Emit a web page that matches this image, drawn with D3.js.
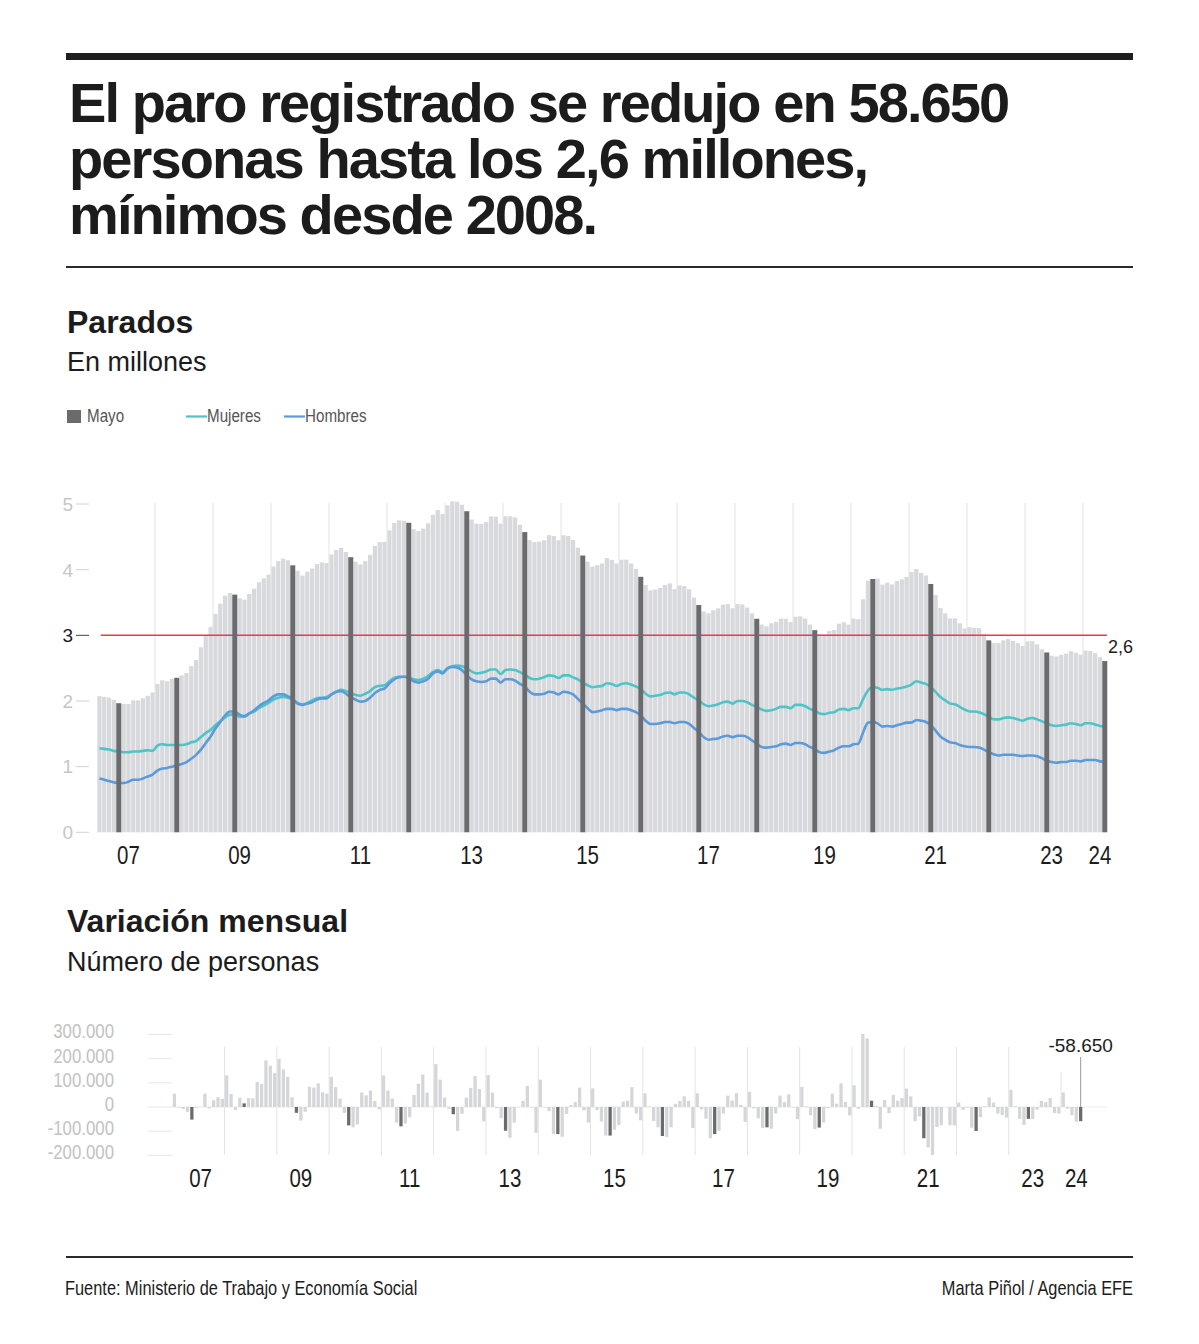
<!DOCTYPE html>
<html>
<head>
<meta charset="utf-8">
<script src="https://cdn.jsdelivr.net/npm/d3@7"></script>
<style>
  html, body { margin: 0; padding: 0; background: #fff; }
  svg { display: block; }
</style>
</head>
<body>
<svg id="chart" width="1199" height="1344"></svg>
<script>
// ---------- DATA ----------
const titleLines = ["El paro registrado se redujo en 58.650", "personas hasta los 2,6 millones,", "mínimos desde 2008."];
const firstMonth = "2007-01";
const lastMonth = "2024-05";
const seriesNames = ["Mayo", "Mujeres", "Hombres"];
const tickLabels = ["07", "09", "11", "13", "15", "17", "19", "21", "23", "24"];
const tickMonths = ["2007-07", "2009-06", "2011-07", "2013-06", "2015-06", "2017-07", "2019-07", "2021-06", "2023-06", "2024-04"];
const yTicksTop = [0, 1, 2, 3, 4, 5];
const yTicksBottom = [300, 200, 100, 0, -100, -200];
const yLabelsBottom = ["300.000", "200.000", "100.000", "0", "-100.000", "-200.000"];
const refLevel = 3;

// Total parados (thousands)
const paro = [
2074,2064,2051,2018,1966,1955,1953,2010,2008,2040,2080,2130,
2261,2315,2300,2338,2353,2390,2426,2530,2625,2818,2989,3129,
3327,3482,3605,3645,3620,3564,3544,3629,3709,3808,3869,3924,
4048,4130,4167,4142,4066,3982,3909,3969,4017,4085,4110,4100,
4231,4299,4334,4269,4190,4122,4080,4130,4226,4360,4420,4422,
4599,4712,4751,4744,4714,4615,4587,4626,4705,4834,4908,4848,
4980,5040,5035,4989,4890,4763,4699,4698,4724,4811,4808,4701,
4814,4812,4795,4684,4572,4449,4420,4427,4447,4526,4512,4448,
4525,4512,4452,4334,4215,4121,4047,4068,4094,4176,4149,4094,
4151,4153,4094,4011,3891,3767,3684,3697,3721,3765,3790,3703,
3760,3750,3702,3573,3461,3363,3336,3383,3410,3467,3475,3413,
3476,3470,3423,3336,3252,3163,3136,3183,3203,3255,3253,3202,
3285,3289,3255,3164,3079,3016,3012,3066,3080,3178,3199,3164,
3254,3246,3549,3832,3858,3863,3773,3802,3776,3826,3852,3889,
3965,4009,3950,3911,3782,3615,3417,3334,3258,3258,3183,3106,
3124,3112,3109,3022,2923,2881,2884,2924,2942,2915,2881,2838,
2908,2911,2862,2788,2739,2689,2678,2703,2722,2759,2735,2707,
2768,2760,2727,2667,2608];

// Mujeres (millions)
const mujeres = [
1.28,1.27,1.26,1.24,1.23,1.22,1.22,1.23,1.23,1.24,1.25,1.24,
1.32,1.34,1.33,1.33,1.33,1.33,1.34,1.37,1.39,1.45,1.51,1.56,
1.63,1.69,1.75,1.79,1.80,1.76,1.76,1.81,1.84,1.89,1.93,1.97,
2.02,2.05,2.06,2.05,2.02,1.97,1.95,1.97,2.01,2.04,2.05,2.06,
2.10,2.14,2.17,2.15,2.12,2.09,2.08,2.11,2.15,2.21,2.23,2.24,
2.30,2.35,2.37,2.37,2.36,2.33,2.32,2.34,2.38,2.44,2.47,2.44,
2.49,2.53,2.54,2.53,2.50,2.45,2.42,2.43,2.45,2.48,2.48,2.41,
2.47,2.48,2.47,2.44,2.40,2.35,2.33,2.34,2.36,2.39,2.38,2.35,
2.39,2.39,2.36,2.33,2.28,2.24,2.21,2.22,2.23,2.27,2.26,2.23,
2.26,2.27,2.25,2.22,2.18,2.11,2.07,2.08,2.09,2.12,2.13,2.10,
2.13,2.13,2.10,2.05,2.01,1.95,1.92,1.93,1.95,1.98,1.99,1.96,
2.00,2.00,1.98,1.94,1.91,1.87,1.85,1.86,1.88,1.91,1.91,1.89,
1.94,1.94,1.92,1.88,1.85,1.81,1.80,1.82,1.83,1.87,1.88,1.86,
1.89,1.89,2.03,2.16,2.21,2.20,2.17,2.18,2.17,2.19,2.20,2.22,
2.25,2.30,2.28,2.26,2.21,2.14,2.06,2.01,1.96,1.95,1.91,1.87,
1.84,1.84,1.83,1.80,1.76,1.72,1.72,1.74,1.75,1.74,1.72,1.70,
1.73,1.74,1.72,1.69,1.66,1.63,1.62,1.63,1.64,1.66,1.65,1.63,
1.66,1.66,1.64,1.62,1.61];

// Hombres (millions)
const hombres = [
0.82,0.80,0.78,0.76,0.75,0.75,0.77,0.80,0.80,0.82,0.85,0.88,
0.94,0.97,0.98,1.00,1.02,1.04,1.07,1.12,1.18,1.26,1.36,1.46,
1.58,1.68,1.78,1.84,1.84,1.79,1.77,1.81,1.86,1.92,1.97,2.01,
2.07,2.10,2.10,2.07,2.03,1.96,1.94,1.96,1.98,2.02,2.04,2.04,
2.10,2.14,2.15,2.11,2.06,2.02,1.99,2.00,2.05,2.12,2.17,2.19,
2.27,2.33,2.36,2.37,2.35,2.30,2.28,2.30,2.34,2.42,2.45,2.42,
2.50,2.52,2.51,2.47,2.39,2.33,2.30,2.29,2.30,2.34,2.34,2.28,
2.33,2.33,2.31,2.26,2.22,2.14,2.10,2.10,2.11,2.14,2.13,2.10,
2.14,2.13,2.10,2.03,1.96,1.89,1.83,1.84,1.86,1.88,1.88,1.86,
1.88,1.88,1.86,1.83,1.78,1.70,1.65,1.65,1.66,1.68,1.68,1.66,
1.68,1.68,1.65,1.59,1.53,1.45,1.41,1.42,1.43,1.46,1.47,1.45,
1.47,1.47,1.45,1.40,1.35,1.30,1.29,1.30,1.31,1.34,1.35,1.33,
1.36,1.36,1.34,1.30,1.27,1.22,1.21,1.23,1.25,1.29,1.31,1.31,
1.34,1.35,1.52,1.67,1.68,1.66,1.61,1.62,1.61,1.63,1.65,1.67,
1.67,1.71,1.70,1.68,1.63,1.55,1.46,1.41,1.37,1.36,1.33,1.31,
1.30,1.30,1.29,1.26,1.22,1.19,1.17,1.18,1.18,1.18,1.17,1.16,
1.17,1.17,1.16,1.13,1.09,1.07,1.06,1.07,1.07,1.09,1.09,1.08,
1.10,1.10,1.10,1.08,1.07];

// Variación mensual (thousands of persons)
const variacion = [
55,-3,-8,-20,-52,-4,1,55,-6,28,40,33,
131,54,-12,38,15,37,36,104,95,193,171,140,
199,155,124,40,-24,-56,-20,84,80,98,61,55,
124,82,35,-24,-76,-84,-72,60,48,68,25,-10,
130,68,35,-65,-80,-68,-42,50,96,134,60,2,
177,113,39,-7,-30,-99,-28,39,79,128,74,-59,
132,60,-5,-46,-98,-127,-64,-1,25,87,-2,-107,
113,-2,-17,-112,-112,-123,-29,8,20,80,-14,-64,
77,-13,-60,-118,-118,-94,-74,22,26,82,-27,-55,
57,2,-58,-84,-120,-124,-84,13,25,44,25,-87,
57,-10,-48,-129,-112,-98,-27,47,27,57,8,-62,
63,-6,-47,-87,-84,-90,-27,47,20,52,-2,-50,
83,3,-34,-91,-85,-64,-4,55,14,98,21,-35,
90,-7,302,283,26,5,-90,29,-26,50,26,37,
76,44,-59,-39,-129,-167,-198,-83,-76,0,-75,-76,
18,-12,-3,-86,-99,-42,3,40,18,-27,-33,-44,
71,3,-49,-74,-49,-50,-11,25,20,37,-25,-27,
60,-7,-33,-61,-58.65];

const lastLabel = "-58.650";
const lastTotalLabel = "2,6";
const footerLeft = "Fuente: Ministerio de Trabajo y Economía Social";
const footerRight = "Marta Piñol / Agencia EFE";

// ---------- SETUP ----------
const fmtM = d3.timeFormat("%Y-%m");
const parseM = d3.timeParse("%Y-%m");
const months = d3.timeMonth.range(parseM(firstMonth), d3.timeMonth.offset(parseM(lastMonth), 1)).map(fmtM);
const isMay = m => m.slice(5) === "05";
const isJan = m => m.slice(5) === "01";

const SANS = "'Liberation Sans',Arial,Helvetica,sans-serif";
const NARROW_SCALE = 0.82;
const C_LIGHT = "#d8d9dd";
const C_LIGHT2 = "#d5d6da";
const C_DARK = "#6b6b6e";
const C_MUJ = "#4fc4c8";
const C_HOM = "#5b9bd9";
const C_RED = "#ec3a43";
const C_TEXT = "#1c1c1c";

const svg = d3.select("#chart");
svg.append("rect").attr("width", 1199).attr("height", 1344).attr("fill", "#fff");

// condensed text helper (Arial Narrow look, emulated by horizontal scaling)
function narrowText(parent, x, y, txt, size, fill, anchor) {
  const g = parent.append("g").attr("transform", `translate(${x},${y}) scale(${NARROW_SCALE},1)`);
  return g.append("text").attr("x", 0).attr("y", 0).attr("font-family", SANS).attr("font-size", size)
    .attr("fill", fill).attr("text-anchor", anchor || "start").text(txt);
}

// ---------- HEADER ----------
svg.append("rect").attr("x", 66).attr("y", 53).attr("width", 1067).attr("height", 7).attr("fill", "#1e1e1e");
const title = svg.append("text").attr("font-family", SANS).attr("font-weight", "bold")
  .attr("font-size", 56).attr("letter-spacing", "-1.9px").attr("fill", C_TEXT);
titleLines.forEach((t, i) => {
  title.append("tspan").attr("x", 69).attr("y", 122 + i * 56).text(t);
});
svg.append("rect").attr("x", 66).attr("y", 266).attr("width", 1067).attr("height", 2).attr("fill", "#2a2a2a");

// ---------- TOP CHART ----------
svg.append("text").attr("x", 67).attr("y", 333).attr("font-family", SANS).attr("font-weight", "bold")
  .attr("font-size", 32).attr("fill", C_TEXT).text("Parados");
svg.append("text").attr("x", 67).attr("y", 371).attr("font-family", SANS)
  .attr("font-size", 27).attr("fill", C_TEXT).text("En millones");

// legend
const lg = svg.append("g");
lg.append("rect").attr("x", 67).attr("y", 410).attr("width", 14).attr("height", 13).attr("fill", C_DARK);
narrowText(lg, 87, 422, seriesNames[0], 18.5, "#555");
lg.append("line").attr("x1", 186).attr("x2", 207).attr("y1", 416.5).attr("y2", 416.5).attr("stroke", C_MUJ).attr("stroke-width", 2.2);
narrowText(lg, 207, 422, seriesNames[1], 18.5, "#555");
lg.append("line").attr("x1", 284).attr("x2", 305).attr("y1", 416.5).attr("y2", 416.5).attr("stroke", C_HOM).attr("stroke-width", 2.2);
narrowText(lg, 305, 422, seriesNames[2], 18.5, "#555");

const xTop = d3.scaleBand().domain(months).range([97.3, 1106.9]).paddingInner(0.12).paddingOuter(0);
const yTop = d3.scaleLinear().domain([0, 5]).range([832.3, 504]);
const stepT = xTop.step();
const gapT = stepT - xTop.bandwidth();

const topData = months.map((m, i) => ({ m, total: paro[i] / 1000, muj: mujeres[i], hom: hombres[i] }));

// light bars
svg.append("g").selectAll("rect").data(topData.filter(d => !isMay(d.m))).join("rect")
  .attr("x", d => xTop(d.m)).attr("width", xTop.bandwidth())
  .attr("y", d => yTop(d.total)).attr("height", d => yTop(0) - yTop(d.total))
  .attr("fill", C_LIGHT);

// gridlines (January)
svg.append("g").selectAll("line").data(months.filter((m, i) => isJan(m) && i > 0)).join("line")
  .attr("x1", m => xTop(m) - gapT / 2).attr("x2", m => xTop(m) - gapT / 2)
  .attr("y1", yTop(5) - 1).attr("y2", yTop(0))
  .attr("stroke", "#e3e3e6").attr("stroke-width", 1);

// y axis
const yAxT = svg.append("g").attr("font-family", SANS).attr("font-size", 19);
yTicksTop.forEach(v => {
  const dark = v === refLevel;
  yAxT.append("line").attr("x1", 76).attr("x2", 89).attr("y1", yTop(v)).attr("y2", yTop(v))
    .attr("stroke", dark ? "#444" : "#d2d2d2").attr("stroke-width", 1);
  yAxT.append("text").attr("x", 73).attr("y", yTop(v)).attr("dy", "0.36em").attr("text-anchor", "end")
    .attr("fill", dark ? C_TEXT : "#c6c6c6").text(v);
});

// reference line
svg.append("line").attr("x1", 100.7).attr("x2", 1106.9).attr("y1", yTop(refLevel)).attr("y2", yTop(refLevel))
  .attr("stroke", C_RED).attr("stroke-width", 1.6);

// lines
const lineGen = key => d3.line().x(d => xTop(d.m) + xTop.bandwidth() / 2).y(d => yTop(d[key])).curve(d3.curveMonotoneX);
svg.append("path").datum(topData).attr("d", lineGen("muj")).attr("fill", "none").attr("stroke", C_MUJ).attr("stroke-width", 2.6);
svg.append("path").datum(topData).attr("d", lineGen("hom")).attr("fill", "none").attr("stroke", C_HOM).attr("stroke-width", 2.6);

// dark May bars
svg.append("g").selectAll("rect").data(topData.filter(d => isMay(d.m))).join("rect")
  .attr("x", d => xTop(d.m) + xTop.bandwidth() / 2 - 2.5).attr("width", 5)
  .attr("y", d => yTop(d.total)).attr("height", d => yTop(0) - yTop(d.total))
  .attr("fill", C_DARK);

// last value label
const lastTop = topData[topData.length - 1];
svg.append("text").attr("x", 1108).attr("y", yTop(lastTop.total) - 8).attr("font-family", SANS)
  .attr("font-size", 18).attr("fill", C_TEXT).text(lastTotalLabel);

// x labels
const xlT = svg.append("g");
tickLabels.forEach((t, i) => {
  narrowText(xlT, xTop(tickMonths[i]) + xTop.bandwidth() / 2, 864, t, 25, C_TEXT, "middle");
});

// ---------- BOTTOM CHART ----------
svg.append("text").attr("x", 67).attr("y", 932).attr("font-family", SANS).attr("font-weight", "bold")
  .attr("font-size", 32).attr("fill", C_TEXT).text("Variación mensual");
svg.append("text").attr("x", 67).attr("y", 971).attr("font-family", SANS)
  .attr("font-size", 27).attr("fill", C_TEXT).text("Número de personas");

const xBot = d3.scaleBand().domain(months).range([172.8, 1082.3]).paddingInner(0.25).paddingOuter(0);
const yBot = d3.scaleLinear().domain([-200, 300]).range([1155.4, 1034.4]);
const gapB = xBot.step() - xBot.bandwidth();
const botData = months.map((m, i) => ({ m, v: variacion[i] }));

// y ticks
const yAxB = svg.append("g");
yTicksBottom.forEach((v, i) => {
  yAxB.append("line").attr("x1", 148).attr("x2", 172).attr("y1", yBot(v)).attr("y2", yBot(v))
    .attr("stroke", "#e6e6e6").attr("stroke-width", 1);
  narrowText(yAxB, 114, yBot(v) + 4, yLabelsBottom[i], 20.5, "#c2c2c2", "end");
});

// gridlines
const janB = months.filter((m, i) => isJan(m) && i > 0);
svg.append("g").selectAll("line").data(janB).join("line")
  .attr("x1", m => xBot(m) - gapB / 2).attr("x2", m => xBot(m) - gapB / 2)
  .attr("y1", (m, i) => i === janB.length - 1 ? 1072 : 1047)
  .attr("y2", (m, i) => i === janB.length - 1 ? yBot(0) : 1155)
  .attr("stroke", "#e3e3e6").attr("stroke-width", 1);

// zero line
svg.append("line").attr("x1", 172).attr("x2", 1107).attr("y1", yBot(0)).attr("y2", yBot(0))
  .attr("stroke", "#ececec").attr("stroke-width", 1);

// bars
svg.append("g").selectAll("rect").data(botData).join("rect")
  .attr("x", d => xBot(d.m)).attr("width", xBot.bandwidth())
  .attr("y", d => yBot(Math.max(0, d.v))).attr("height", d => Math.abs(yBot(d.v) - yBot(0)))
  .attr("fill", d => isMay(d.m) ? C_DARK : C_LIGHT2);

// last label
const lastB = botData[botData.length - 1];
const lxB = xBot(lastB.m) + xBot.bandwidth() / 2;
svg.append("line").attr("x1", lxB).attr("x2", lxB).attr("y1", 1057).attr("y2", yBot(0))
  .attr("stroke", "#9a9a9a").attr("stroke-width", 1);
svg.append("text").attr("x", lxB).attr("y", 1052).attr("text-anchor", "middle").attr("font-family", SANS)
  .attr("font-size", 19).attr("fill", C_TEXT).text(lastLabel);

// x labels
const xlB = svg.append("g");
tickLabels.forEach((t, i) => {
  narrowText(xlB, xBot(tickMonths[i]) + xBot.bandwidth() / 2, 1187, t, 25, C_TEXT, "middle");
});

// ---------- FOOTER ----------
svg.append("rect").attr("x", 66).attr("y", 1256).attr("width", 1067).attr("height", 2).attr("fill", "#2a2a2a");
narrowText(svg, 65, 1295, footerLeft, 20, C_TEXT, "start");
narrowText(svg, 1133, 1295, footerRight, 20, C_TEXT, "end");
</script>
</body>
</html>
